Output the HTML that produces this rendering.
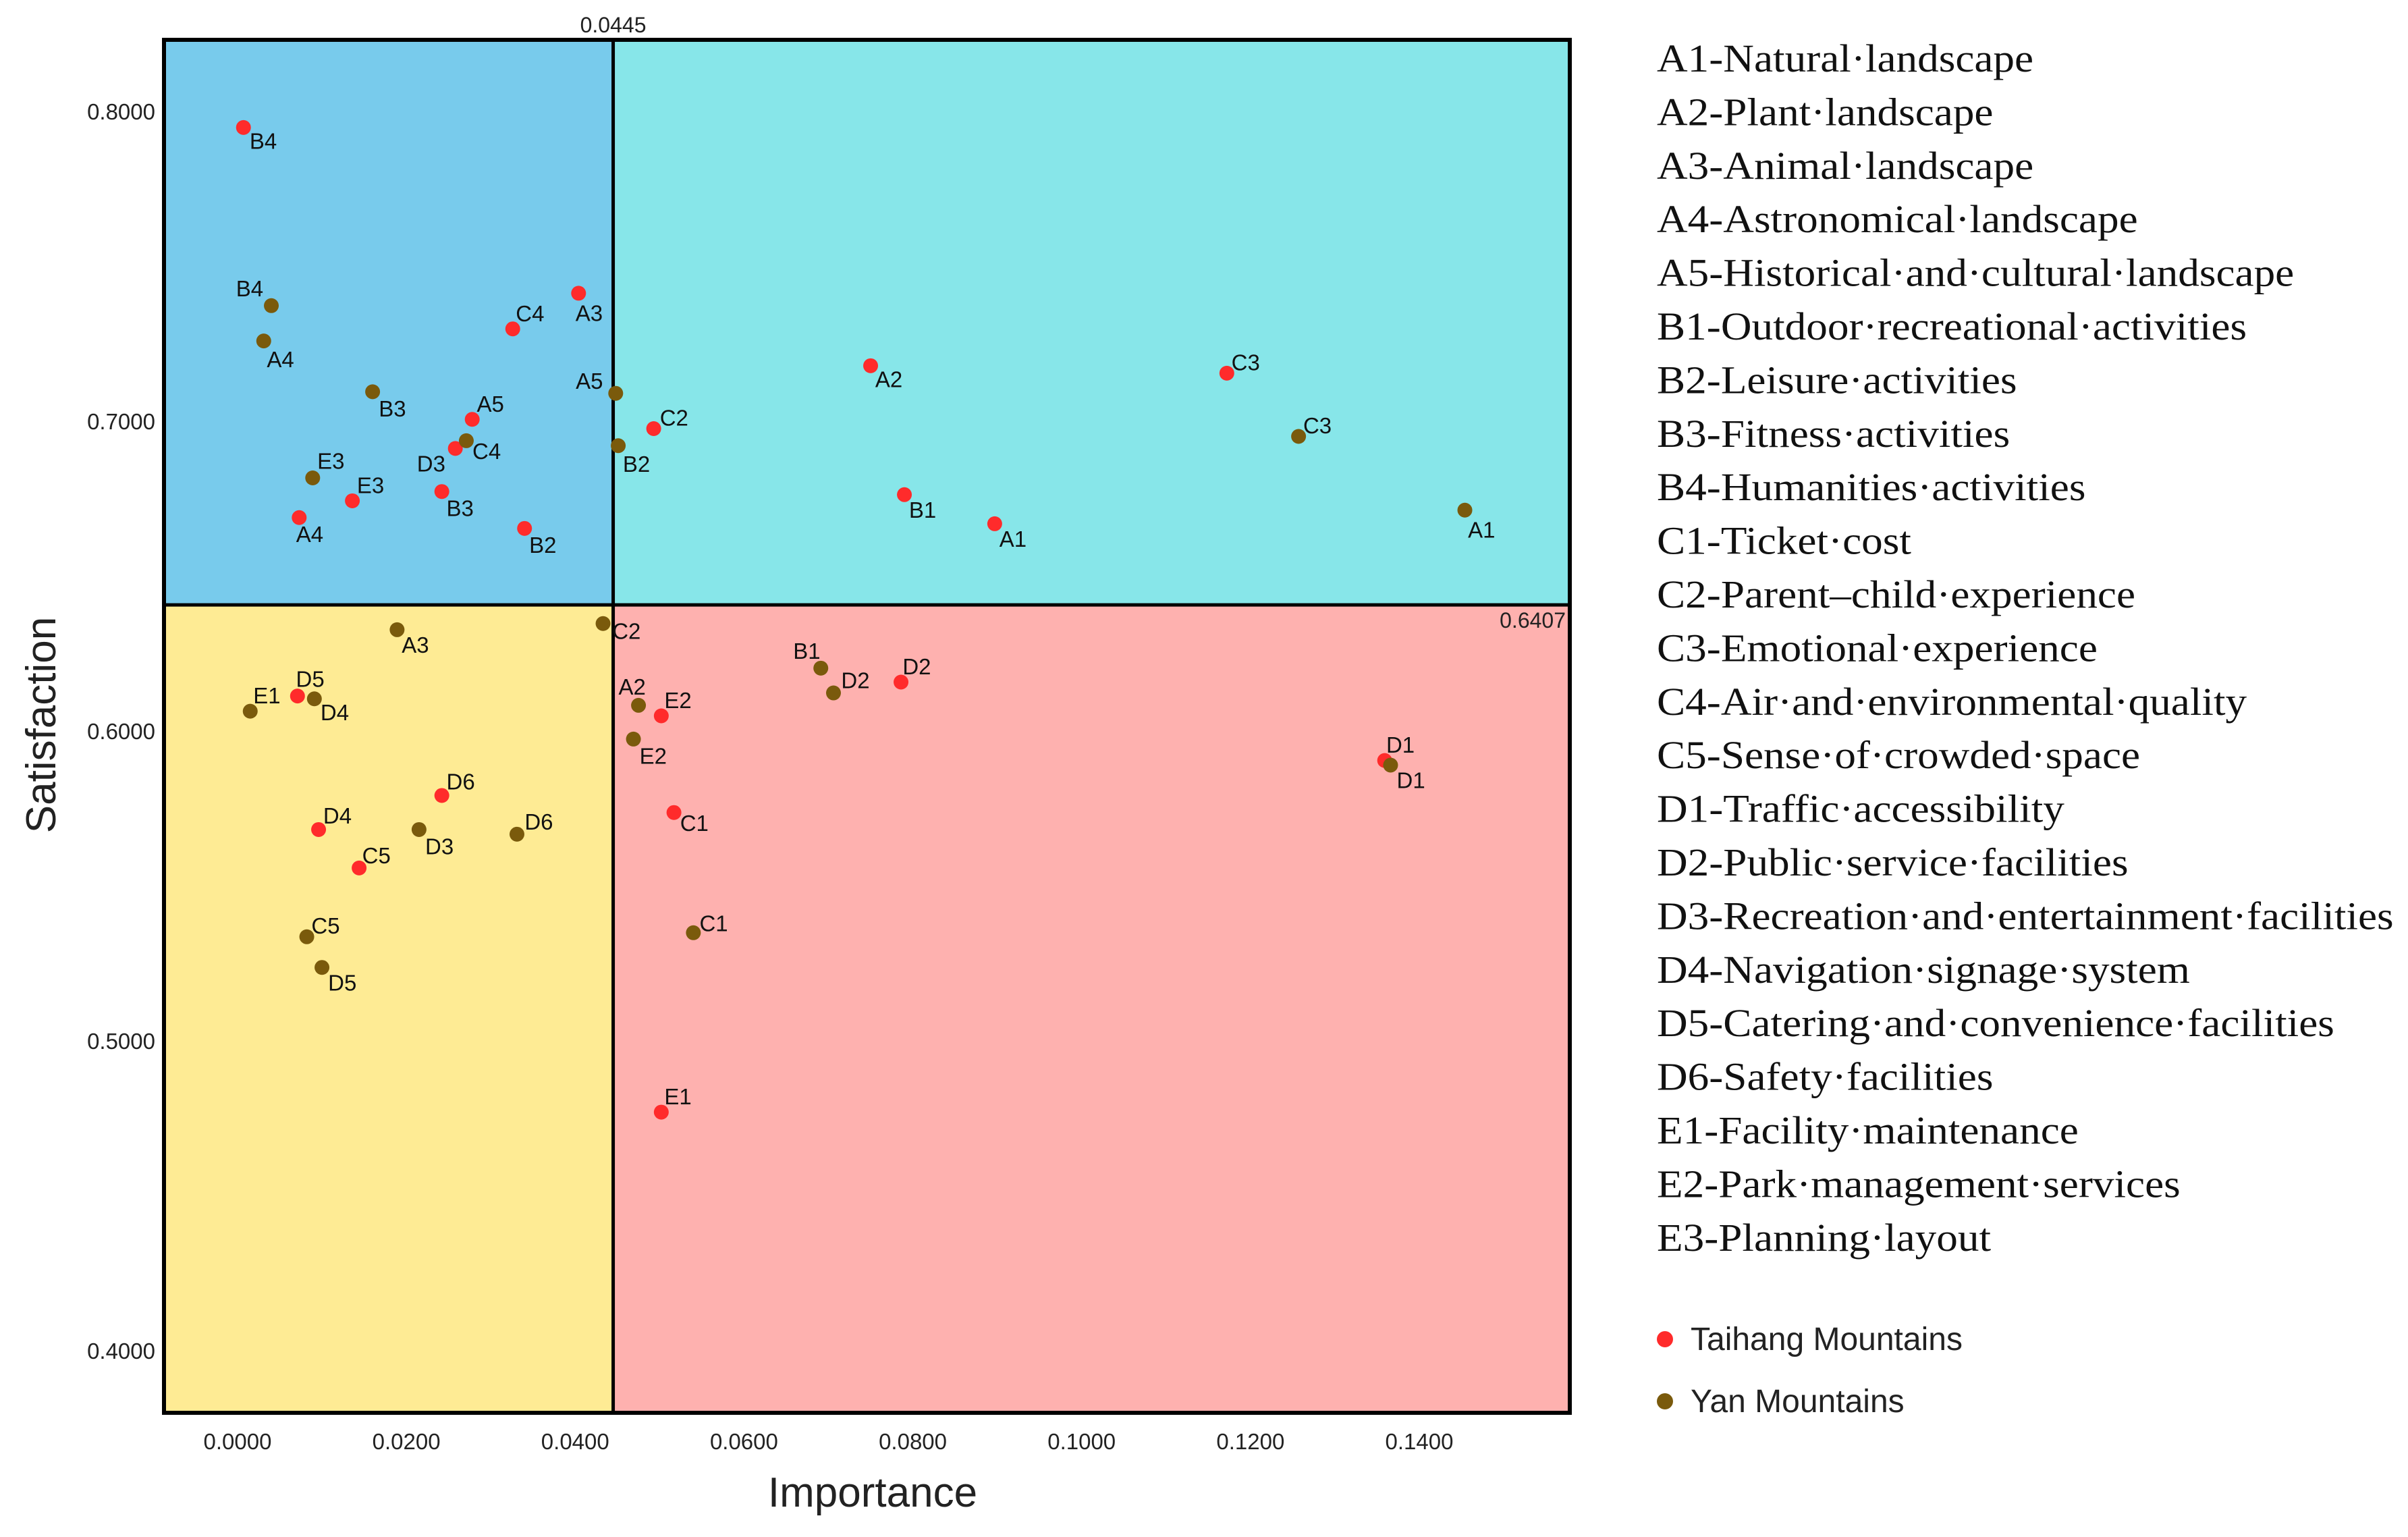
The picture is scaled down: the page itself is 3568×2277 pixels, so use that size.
<!DOCTYPE html>
<html><head><meta charset="utf-8">
<style>
html,body{margin:0;padding:0;background:#fff;}
svg{display:block;}
text{font-family:"Liberation Sans",sans-serif;}
</style></head>
<body>
<svg id="chart" width="3568" height="2277" viewBox="0 0 3568 2277" xmlns="http://www.w3.org/2000/svg"></svg>
<script>
// ---- data ----
const redCodes = ["B4","A3","C4","A5","D3","E3","B3","A4","B2","A2","C2","B1","A1","C3","D2","E2","C1","D1","E1","D6","D4","C5","D5"];
const redImportance = [0.0007,0.0404,0.0326,0.0278,0.0258,0.0136,0.0242,0.0073,0.0340,0.0750,0.0493,0.0790,0.0897,0.1172,0.0786,0.0502,0.0517,0.1359,0.0502,0.0242,0.0096,0.0144,0.0071];
const redSatisfaction = [0.7948,0.7413,0.7298,0.7006,0.6912,0.6743,0.6773,0.6689,0.6654,0.7179,0.6976,0.6763,0.6669,0.7155,0.6158,0.6049,0.5737,0.5905,0.4770,0.5792,0.5682,0.5558,0.6113];
const yanCodes = ["B4","A4","B3","A5","C4","B2","E3","A1","C3","A3","C2","E1","D4","A2","E2","B1","D2","D3","D6","C5","D5","C1","D1"];
const yanImportance = [0.0040,0.0031,0.0160,0.0448,0.0271,0.0451,0.0089,0.1454,0.1257,0.0189,0.0433,0.0015,0.0091,0.0475,0.0469,0.0691,0.0706,0.0215,0.0331,0.0082,0.0100,0.0540,0.1366];
const yanSatisfaction = [0.7373,0.7259,0.7095,0.7090,0.6937,0.6921,0.6817,0.6713,0.6951,0.6327,0.6347,0.6064,0.6104,0.6083,0.5974,0.6203,0.6123,0.5682,0.5667,0.5336,0.5237,0.5349,0.5890];
const xTicks = [0,0.02,0.04,0.06,0.08,0.1,0.12,0.14];
const yTicks = [0.4,0.5,0.6,0.7,0.8];
const importanceMean = 0.0445;
const satisfactionMean = 0.6407;
const legendItems = ["A1-Natural·landscape","A2-Plant·landscape","A3-Animal·landscape","A4-Astronomical·landscape","A5-Historical·and·cultural·landscape","B1-Outdoor·recreational·activities","B2-Leisure·activities","B3-Fitness·activities","B4-Humanities·activities","C1-Ticket·cost","C2-Parent–child·experience","C3-Emotional·experience","C4-Air·and·environmental·quality","C5-Sense·of·crowded·space","D1-Traffic·accessibility","D2-Public·service·facilities","D3-Recreation·and·entertainment·facilities","D4-Navigation·signage·system","D5-Catering·and·convenience·facilities","D6-Safety·facilities","E1-Facility·maintenance","E2-Park·management·services","E3-Planning·layout"];
// label offsets (layout only, in px at 1568-wide scale)
const redLabelOff = [[4,14],[-2,18],[2,-5],[3,-5],[-25,15],[3,-5],[3,16],[-2,16],[3,16],[3,14],[4,-2],[3,15],[3,15],[3,-2],[1,-5],[2,-5],[4,12],[1,-5],[2,-5],[3,-4],[3,-4],[2,-3],[-1,-6]];
const yanLabelOff = [[-23,-6],[2,17],[4,16],[-26,-3],[4,12],[3,17],[3,-6],[2,18],[3,-2],[3,15],[6,10],[2,-5],[4,14],[-13,-7],[4,16],[-18,-6],[5,-3],[4,16],[5,-3],[3,-2],[4,15],[4,-1],[4,15]];

// ---- axes ----
const L=243,R=2326,T=59,B=2093;
const X = v => 352 + v*12507;
const Y = v => 165 + (0.8 - v)*4590;
const S = 2.2755;
const svg=document.getElementById('chart');
const NS="http://www.w3.org/2000/svg";
function mk(tag,attrs,parent){const e=document.createElementNS(NS,tag);for(const k in attrs)e.setAttribute(k,attrs[k]);(parent||svg).appendChild(e);return e;}

const xm=X(importanceMean), ym=Y(satisfactionMean);
let q;
q=mk('rect',{x:L,y:T,width:xm-L,height:ym-T,fill:'#78CBEC'});


q=mk('rect',{x:xm,y:T,width:R-xm,height:ym-T,fill:'#87E6E9'});


q=mk('rect',{x:L,y:ym,width:xm-L,height:B-ym,fill:'#FEEB94'});


q=mk('rect',{x:xm,y:ym,width:R-xm,height:B-ym,fill:'#FEB1AF'});



q=mk('line',{x1:xm,y1:T,x2:xm,y2:B,stroke:'#000','stroke-width':5});


q=mk('line',{x1:L,y1:ym,x2:R,y2:ym,stroke:'#000','stroke-width':5});


q=mk('rect',{x:L,y:T,width:R-L,height:B-T,fill:'none',stroke:'#000','stroke-width':6});



q=mk('text',{x:xm,y:48,'font-size':32,'text-anchor':'middle',fill:'#222'});
q.textContent=importanceMean.toFixed(4);


q=mk('text',{x:R-6,y:ym+34,'font-size':32,'text-anchor':'end',fill:'#222'});
q.textContent=satisfactionMean.toFixed(4);



xTicks.forEach(v=>{
  const t=mk('text',{x:X(v),y:2147,'font-size':33,'text-anchor':'middle',fill:'#222'});
  t.textContent=v.toFixed(4);
  
  
});
yTicks.forEach(v=>{
  const t=mk('text',{x:230,y:Y(v)+12,'font-size':33,'text-anchor':'end',fill:'#222'});
  t.textContent=v.toFixed(4);
  
  
});
q=mk('text',{x:1293,y:2232,'font-size':62,'text-anchor':'middle',fill:'#222'});
q.textContent='Importance';


q=mk('text',{x:0,y:0,'font-size':62,'text-anchor':'middle',fill:'#222',transform:'translate(82,1074) rotate(-90)'});
q.textContent='Satisfaction';



function series(codes,xs,ys,offs,color,name){
  const g=mk('g',{});
  
  
  codes.forEach((c,i)=>{
    const cx=X(xs[i]), cy=Y(ys[i]);
    const p=mk('circle',{cx:cx,cy:cy,r:11,fill:color},g);
    
    
    const t=mk('text',{x:cx+offs[i][0]*S,y:cy+offs[i][1]*S,'font-size':33,fill:'#111'},g);
    t.textContent=c;
    
    
  });
}
series(redCodes,redImportance,redSatisfaction,redLabelOff,'#FF2B2B','taihang');
series(yanCodes,yanImportance,yanSatisfaction,yanLabelOff,'#7A5A0C','yan');

legendItems.forEach((s,i)=>{
  const t=mk('text',{x:0,y:0,'font-size':58,fill:'#111',transform:'translate(2455,'+(106+i*79.4)+') scale(1.09,1)'});
  t.setAttribute('style','font-family:"Liberation Serif",serif');
  t.textContent=s;
  
  
});
const lg=[["Taihang Mountains","#FF2B2B",1984],["Yan Mountains","#7A5A0C",2076]];
lg.forEach(([n,c,y])=>{
  const d=mk('circle',{cx:2467,cy:y,r:12,fill:c});
  
  
  const t=mk('text',{x:2505,y:y+16,'font-size':48,fill:'#222'});
  t.textContent=n;
  
  
});
</script>
</body></html>
